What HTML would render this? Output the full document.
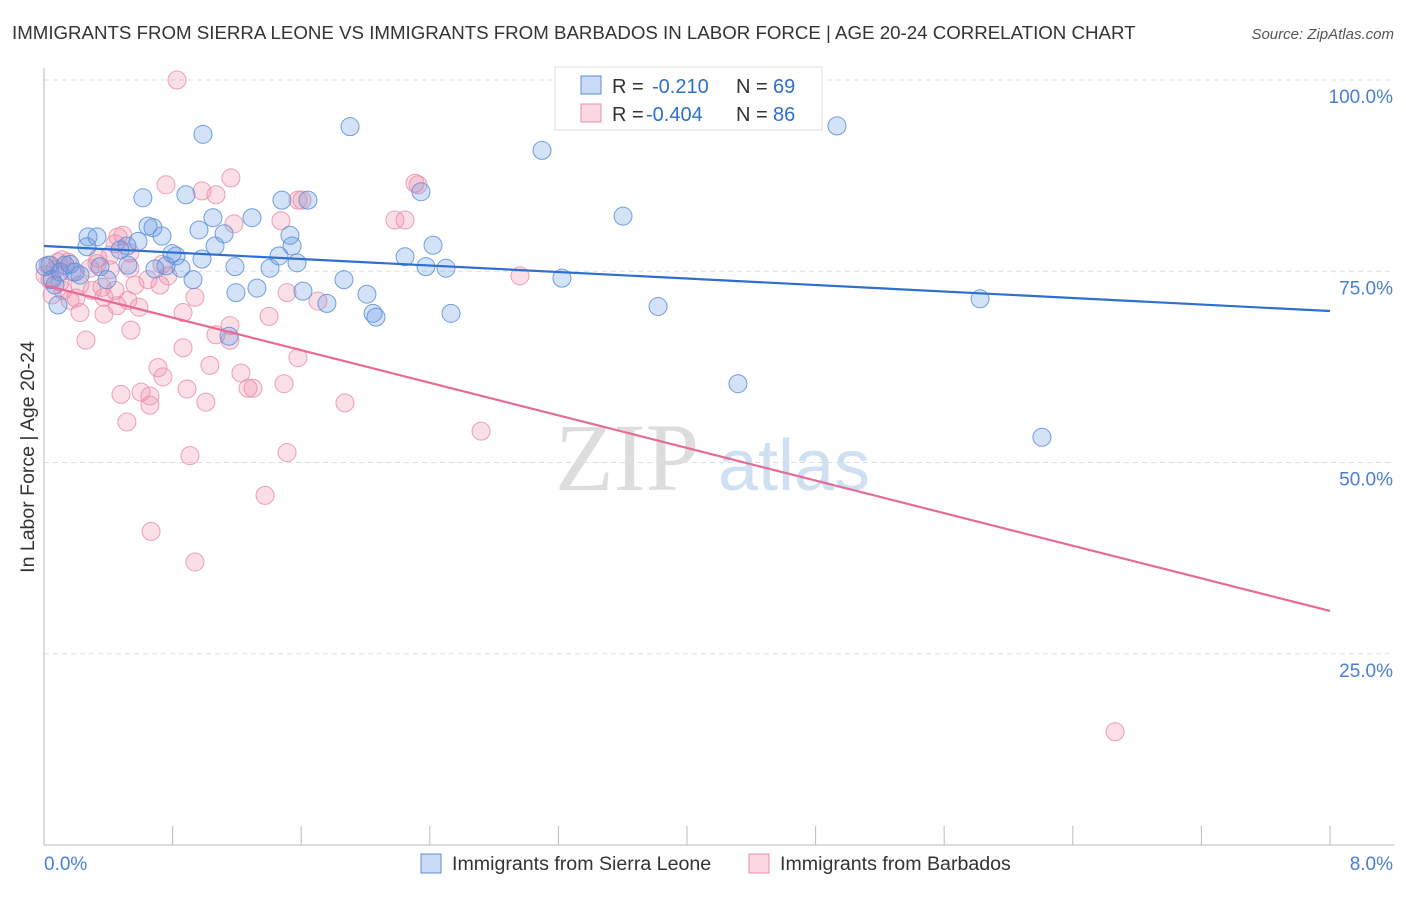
<!DOCTYPE html>
<html><head><meta charset="utf-8"><style>
body{margin:0;background:#fff;font-family:"Liberation Sans",sans-serif;}
svg text{font-family:"Liberation Sans",sans-serif;}
</style></head><body>
<svg id="chart" width="1406" height="892" viewBox="0 0 1406 892" xmlns="http://www.w3.org/2000/svg">
<text x="12" y="39" font-size="18.7" fill="#333">IMMIGRANTS FROM SIERRA LEONE VS IMMIGRANTS FROM BARBADOS IN LABOR FORCE | AGE 20-24 CORRELATION CHART</text>
<text x="1394" y="39" font-size="15" fill="#555" text-anchor="end" font-style="italic">Source: ZipAtlas.com</text>
<g>
<text x="555" y="490" font-size="96" fill="#ddd" font-family="Liberation Serif" style="font-family:'Liberation Serif',serif">ZIP</text>
<text x="718" y="490" font-size="72" fill="#cfe0f3">atlas</text>
</g>
<g id="grid"></g>
<g id="axes"></g>
<g id="points"></g>
<g id="trends"></g>
<text transform="translate(34,457) rotate(-90)" font-size="19.5" fill="#333" text-anchor="middle">In Labor Force | Age 20-24</text>
<g>
<rect x="555" y="67" width="267" height="63" fill="#fff" stroke="#ddd"/>
<rect x="581" y="76" width="20" height="18" fill="rgba(100,150,230,0.35)" stroke="#5b8fd9"/>
<rect x="581" y="104" width="20" height="18" fill="rgba(240,140,170,0.35)" stroke="#e890ab"/>
<g font-size="20">
<text x="612" y="93" fill="#333">R =</text>
<text x="652" y="93" fill="#2f6fd0">-0.210</text>
<text x="736" y="93" fill="#333">N =</text>
<text x="773" y="93" fill="#2f6fd0">69</text>
</g>
<g font-size="20">
<text x="612" y="121" fill="#333">R =</text>
<text x="646" y="121" fill="#2f6fd0">-0.404</text>
<text x="736" y="121" fill="#333">N =</text>
<text x="773" y="121" fill="#2f6fd0">86</text>
</g>
</g>
<g>
<rect x="421" y="854" width="20" height="19" fill="rgba(100,150,230,0.35)" stroke="#5b8fd9"/>
<text x="452" y="870" font-size="19.6" fill="#333">Immigrants from Sierra Leone</text>
<rect x="749" y="854" width="20" height="19" fill="rgba(240,140,170,0.35)" stroke="#e890ab"/>
<text x="780" y="870" font-size="19.6" fill="#333">Immigrants from Barbados</text>
</g>
</svg>
<script>
const yTicks=[100,75,50,25];
const yTickLabels=["100.0%","75.0%","50.0%","25.0%"];
const xTickLabels=["0.0%","8.0%"];
const blueX=[0.615,0.989,1.904,3.098,4.933,0.883,1.051,1.294,1.480,1.642,2.345,3.602,0.274,0.330,0.647,0.678,0.734,0.585,0.516,0.964,1.120,1.064,1.530,1.543,2.420,2.246,1.462,1.574,0.821,0.796,0.983,1.188,1.406,2.376,2.501,3.222,0.690,0.852,0.759,0.522,0.348,0.131,0.037,0.100,0.193,0.392,0.927,1.194,1.325,1.611,1.866,2.009,1.760,2.047,2.065,2.532,3.820,5.823,0.087,1.151,4.317,6.208,0.050,0.162,0.473,0.267,0.006,0.068,0.224];
const blueY=[84.6,92.9,93.9,90.8,94.0,85.0,82.0,82.0,84.3,84.3,85.4,82.2,79.5,79.5,80.9,80.7,79.6,78.9,78.3,80.4,79.9,78.3,79.7,78.3,78.4,76.9,77.0,76.1,77.0,77.3,76.6,75.6,75.4,75.6,75.4,74.1,75.3,75.4,75.7,75.8,75.6,75.8,75.8,74.9,74.9,73.9,73.9,72.2,72.8,72.4,73.9,72.0,70.8,69.5,69.0,69.5,70.4,71.4,70.6,66.5,60.3,53.3,73.9,75.9,77.8,78.2,75.6,73.2,74.5];
const pinkX=[0.827,0.759,1.163,0.983,1.070,1.580,1.605,1.474,1.182,2.183,2.246,2.308,2.327,0.491,0.460,0.442,0.535,0.411,0.336,0.112,0.149,0.025,0.068,0.174,0.100,0.224,0.299,0.361,0.442,0.566,0.722,0.771,0.734,0.535,0.411,0.050,0.118,0.199,0.373,0.939,0.224,0.373,0.454,0.591,0.865,1.400,1.704,1.512,1.157,1.070,0.541,0.261,0.865,1.032,1.225,0.709,0.740,0.890,1.269,1.580,0.479,0.604,0.659,1.007,1.493,1.872,0.516,2.719,0.908,1.512,1.375,0.666,0.939,2.961,6.663,0.006,0.037,0.087,0.286,0.162,0.330,0.522,0.647,1.157,1.300,0.659];
const pinkY=[100,86.3,87.2,85.5,85.0,84.3,84.3,81.6,81.2,81.7,81.7,86.5,86.3,79.7,79.5,78.6,77.4,77.1,76.7,76.5,76.2,75.8,75.2,74.9,73.6,73.2,72.5,72.9,72.5,73.2,73.2,74.4,75.9,75.4,75.2,71.9,72.5,71.5,71.6,71.6,69.6,69.4,70.5,70.3,69.6,69.1,71.1,72.2,67.9,66.7,67.3,66.0,65.0,62.7,61.7,62.4,61.2,59.6,59.7,63.7,58.9,59.2,58.7,57.9,60.3,57.8,55.3,54.1,50.9,51.3,45.7,41.0,37.0,74.4,14.8,74.5,73.9,76.2,75.4,71.2,76.0,71.2,73.9,66.0,59.7,57.5];
const blueTrend=[78.3,69.8];
const pinkTrend=[73.2,30.6];
const X0=44,X1=1330,Y0=845,Y100=80;
const xs=v=>X0+v/8*(X1-X0);
const ys=v=>Y0-v/100*(Y0-Y100);
const NS="http://www.w3.org/2000/svg";
function mk(t,a,p){const e=document.createElementNS(NS,t);for(const k in a)e.setAttribute(k,a[k]);document.getElementById(p).appendChild(e);return e;}
yTicks.forEach((t,i)=>{
 const g=mk('line',{x1:X0,x2:1394,y1:ys(t),y2:ys(t),stroke:'#ddd','stroke-dasharray':'5,4'},'grid');
 
 
 const l=mk('text',{x:1393,y:ys(t)+23,'font-size':19,fill:'#4a7fd4','text-anchor':'end'},'grid');
 l.textContent=yTickLabels[i];
 
 
});
const ax=mk('line',{x1:X0,x2:X0,y1:68,y2:Y0,stroke:'#bbb'},'axes');


const bx=mk('line',{x1:X0,x2:1394,y1:Y0,y2:Y0,stroke:'#bbb'},'axes');


for(let i=0;i<=10;i++){
 const t=mk('line',{x1:xs(i*0.8),x2:xs(i*0.8),y1:826,y2:Y0,stroke:'#bbb'},'axes');
 
 
}
[[0,'start',44],[8,'end',1393]].forEach((d,i)=>{
 const l=mk('text',{x:d[2],y:870,'font-size':19,fill:'#4a7fd4','text-anchor':d[1]},'axes');
 l.textContent=xTickLabels[i];
 
 
});
function pts(X,Y,fill,stroke,name){
 X.forEach((x,i)=>{
  const c=mk('circle',{cx:xs(x),cy:ys(Y[i]),r:9,fill:fill,stroke:stroke,'stroke-width':1,'stroke-opacity':0.85},'points');
  
  
 });
}
pts(pinkX,pinkY,'rgba(240,140,170,0.28)','#e890ab','barbados-point');
pts(blueX,blueY,'rgba(100,150,230,0.28)','#5b8fd9','sierra-leone-point');
const bt=mk('line',{x1:xs(0),y1:ys(blueTrend[0]),x2:xs(8),y2:ys(blueTrend[1]),stroke:'#2f6fd0','stroke-width':2.2},'trends');


const pt=mk('line',{x1:xs(0),y1:ys(pinkTrend[0]),x2:xs(8),y2:ys(pinkTrend[1]),stroke:'#e66b96','stroke-width':2.2},'trends');


</script>
</body></html>
